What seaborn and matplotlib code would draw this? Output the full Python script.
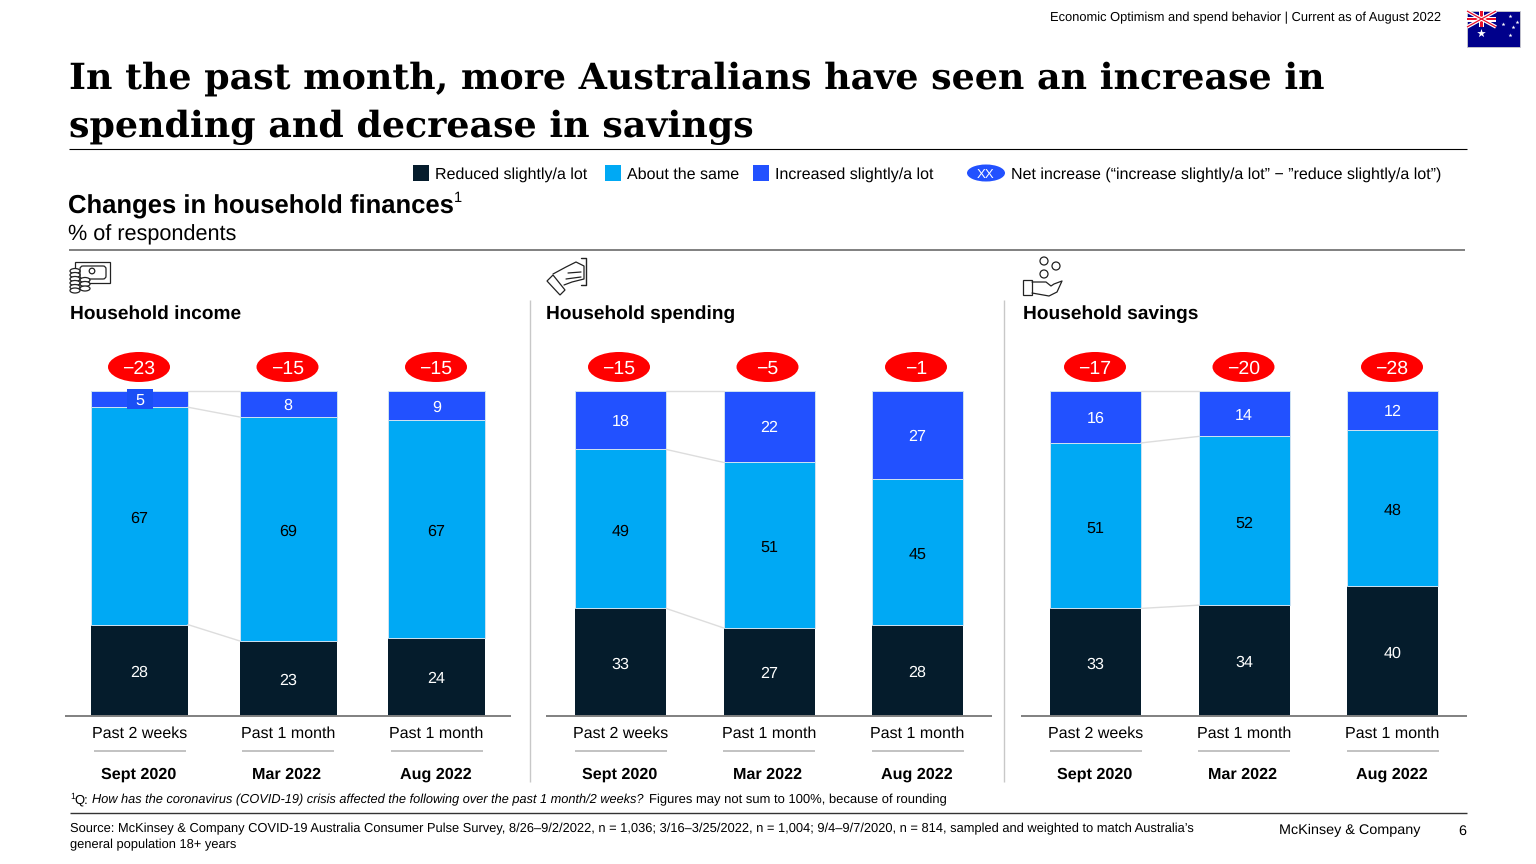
import matplotlib
matplotlib.use('Agg')
import matplotlib.pyplot as plt
from matplotlib.patches import Circle, Ellipse, Polygon, Rectangle, FancyBboxPatch
import pandas as pd
import seaborn as sns

W, H = 1536, 864

periods = ['Past 2 weeks', 'Past 1 month', 'Past 1 month']
dates = ['Sept 2020', 'Mar 2022', 'Aug 2022']
panel_names = ['Household income', 'Household spending', 'Household savings']

income_reduced = [28, 23, 24]
income_same = [67, 69, 67]
income_increased = [5, 8, 9]
income_net = ['−23', '−15', '−15']

spending_reduced = [33, 27, 28]
spending_same = [49, 51, 45]
spending_increased = [18, 22, 27]
spending_net = ['−15', '−5', '−1']

savings_reduced = [33, 34, 40]
savings_same = [51, 52, 48]
savings_increased = [16, 14, 12]
savings_net = ['−17', '−20', '−28']

DARK = '#051C2C'
CYAN = '#00A9F4'
BLUE = '#2251FF'
RED = '#FF0000'
EDGE = '#CFE3F2'

sns.set_theme(style='white')
plt.rcParams['font.family'] = ['Liberation Sans', 'DejaVu Sans']
plt.rcParams['text.hinting'] = 'none'

fig = plt.figure(figsize=(W / 100, H / 100), dpi=100, facecolor='white')


def add_px_axes(x0, x1, y_top, y_bottom):
    return fig.add_axes([x0 / W, 1 - y_bottom / H, (x1 - x0) / W, (y_bottom - y_top) / H])


# overlay in pixel coordinates for the slide furniture
bg = fig.add_axes([0, 0, 1, 1])
bg.set_xlim(0, W)
bg.set_ylim(H, 0)
bg.axis('off')


def txt(x, y, s, size, **kw):
    kw.setdefault('va', 'center_baseline')
    kw.setdefault('color', 'black')
    return bg.text(x, y, s, fontsize=size, **kw)


def rule(x0, x1, y0, y1=None, color='black', lw=1.0):
    bg.plot([x0, x1], [y0, y0 if y1 is None else y1], color=color, lw=lw, solid_capstyle='butt')


# header
txt(1441, 17, 'Economic Optimism and spend behavior | Current as of August 2022', 9.3, ha='right')
title_font = dict(family='DejaVu Serif', fontweight='bold', va='baseline')
txt(69, 89, 'In the past month, more Australians have seen an increase in', 26.2, **title_font)
txt(69, 137, 'spending and decrease in savings', 26.2, **title_font)
rule(69, 1467, 149, lw=0.8)

# flag
bg.add_patch(Rectangle((1467, 11), 53, 36, fc='#00008B', ec='#CCCCCC', lw=0.6))
bg.plot([1467, 1496], [11, 27], color='white', lw=2.6, solid_capstyle='butt')
bg.plot([1467, 1496], [27, 11], color='white', lw=2.6, solid_capstyle='butt')
bg.plot([1467, 1496], [11, 27], color='#E8112D', lw=0.9, solid_capstyle='butt')
bg.plot([1467, 1496], [27, 11], color='#E8112D', lw=0.9, solid_capstyle='butt')
bg.add_patch(Rectangle((1467, 16.5), 29, 5, fc='white', ec='none'))
bg.add_patch(Rectangle((1479, 11), 5, 16, fc='white', ec='none'))
bg.add_patch(Rectangle((1467, 17.7), 29, 2.6, fc='#E8112D', ec='none'))
bg.add_patch(Rectangle((1480.2, 11), 2.6, 16, fc='#E8112D', ec='none'))
bg.scatter([1481], [33], marker='*', s=42, color='white', lw=0)
bg.scatter([1510, 1503, 1517, 1510, 1513], [16, 24, 22, 35, 27], marker='*', s=9, color='white', lw=0)

# legend
legend_items = [(413, DARK, 'Reduced slightly/a lot'), (605, CYAN, 'About the same'),
                (753, BLUE, 'Increased slightly/a lot')]
for x, c, label in legend_items:
    bg.add_patch(Rectangle((x, 165), 16, 16, fc=c, ec='none'))
    txt(x + 22, 178.5, label, 11.5, va='baseline')
bg.add_patch(Ellipse((986, 173), 38, 17, fc=BLUE, ec='none'))
txt(986, 177.5, 'XX', 9.5, color='white', ha='center', va='baseline')
txt(1011, 178.5, 'Net increase (“increase slightly/a lot” − ”reduce slightly/a lot”)', 11.5, va='baseline')

# subtitle
txt(68, 204, 'Changes in household finances', 18.45, fontweight='bold')
txt(454, 197, '1', 10.5)
txt(68, 232, '% of respondents', 15.6)
rule(69, 1465, 250, color='#808080', lw=1.4)

# panel dividers
rule(530, 530, 300, 782, color='#C8C8C8', lw=1)
rule(1004, 1004, 300, 782, color='#C8C8C8', lw=1)

# icon: notes and coins
ic = dict(fill=False, ec='#222222', lw=0.9)
bg.add_patch(Rectangle((75, 262), 35, 21, **ic))
bg.add_patch(FancyBboxPatch((80, 266), 26, 13, boxstyle='round,pad=0,rounding_size=3', fc='white', ec='#222222', lw=0.9))
bg.add_patch(Circle((92, 271), 2.8, **ic))
for yy in [271, 275, 279, 283, 287, 290.5]:
    bg.add_patch(Ellipse((75, yy), 10, 5, fc='white', ec='#222222', lw=0.9, zorder=3))
for yy in [280, 284, 288.5]:
    bg.add_patch(Ellipse((85, yy), 10, 5, fc='white', ec='#222222', lw=0.9, zorder=3))

# icon: hand with card
bg.plot([581, 586, 586, 581], [258, 258, 285, 285], color='#222222', lw=1)
bg.add_patch(Polygon([(547, 281), (553, 275), (565, 290), (560, 295)], **ic))
bg.plot([553, 566, 576, 584, 584, 572, 564], [274, 267, 262, 266, 279, 282, 285], color='#222222', lw=0.9)
bg.plot([568, 581], [273, 272], color='#222222', lw=0.9)
bg.plot([566, 581], [279, 277], color='#222222', lw=0.9)

# icon: hand with coins
for xx, yy, r in [(1044, 261, 4), (1056, 266, 4), (1044, 274, 4)]:
    bg.add_patch(Circle((xx, yy), r, **ic))
bg.add_patch(Rectangle((1023, 280), 9, 15, **ic))
bg.plot([1032, 1046, 1051, 1054, 1062, 1057, 1049, 1032],
        [282, 282, 286, 284, 281, 292, 296, 293], color='#222222', lw=0.9)

# footnotes
rule(70, 1467, 813, color='#333333', lw=1)
txt(70, 796, '1', 6.4)
txt(74.5, 803.5, 'Q:', 9.35, va='baseline')
txt(92.5, 803.5, 'How has the coronavirus (COVID-19) crisis affected the following over the past 1 month/2 weeks?', 9.2,
    style='italic', va='baseline')
txt(947, 803.5, 'Figures may not sum to 100%, because of rounding', 9.35, ha='right', va='baseline')
txt(70, 828, 'Source: McKinsey & Company COVID-19 Australia Consumer Pulse Survey, 8/26–9/2/2022, n = 1,036; '
    '3/16–3/25/2022, n = 1,004; 9/4–9/7/2020, n = 814, sampled and weighted to match Australia’s', 9.27)
txt(70, 844, 'general population 18+ years', 9.27)
txt(1420, 829.5, 'McKinsey & Company', 10.4, ha='right')
txt(1466, 829.5, '6', 10.4, ha='right')

panels = [
    (panel_names[0], income_reduced, income_same, income_increased, income_net, 65.25, 97 / 148.5, 70, -0.5),
    (panel_names[1], spending_reduced, spending_same, spending_increased, spending_net, 546.25, 91 / 148.5, 546, -1.5),
    (panel_names[2], savings_reduced, savings_same, savings_increased, savings_net, 1021.25, 91 / 148.5, 1023, -0.5),
]

for name, reduced, same, increased, net, x0, bar_w, name_x, pill_dx in panels:
    ax = add_px_axes(x0, x0 + 445.5, 391, 715.5)
    ax.patch.set_alpha(0)
    df = pd.DataFrame({'date': dates, 'reduced': reduced, 'same': same, 'increased': increased})
    df['low'] = df['reduced'] + df['same']

    sns.barplot(data=df, x='date', y='reduced', color=DARK, width=bar_w, saturation=1, linewidth=0, ax=ax)
    sns.barplot(data=df, x='date', y='same', bottom=df['reduced'], color=CYAN, width=bar_w, saturation=1,
                edgecolor=EDGE, linewidth=0.7, ax=ax)
    sns.barplot(data=df, x='date', y='increased', bottom=df['low'], color=BLUE, width=bar_w, saturation=1,
                edgecolor=EDGE, linewidth=0.7, ax=ax)

    ax.set_xlim(-0.5, 2.5)
    ax.set_ylim(0, 100)
    ax.set_xlabel('')
    ax.set_ylabel('')
    ax.set_yticks([])
    ax.set_xticks(range(3))
    ax.set_xticklabels(periods, fontsize=11.5, color='black')
    ax.tick_params(axis='x', length=0, pad=8)
    for s in ['top', 'left', 'right']:
        ax.spines[s].set_visible(False)
    ax.spines['bottom'].set_color('#808080')
    ax.spines['bottom'].set_linewidth(1.4)
    ax.spines['bottom'].set_capstyle('butt')

    # thin connectors, only between the first two bars
    gap0, gap1 = bar_w / 2, 1 - bar_w / 2
    for a, b in zip([reduced[0], reduced[0] + same[0], 100], [reduced[1], reduced[1] + same[1], 100]):
        ax.plot([gap0, gap1], [a, b], color='#DDDDDD', lw=1, clip_on=False, zorder=1)

    for i in range(3):
        ax.text(i, reduced[i] / 2 - 0.3, str(reduced[i]), color='white', ha='center', va='center_baseline', fontsize=11.6)
        ax.text(i, reduced[i] + same[i] / 2 - 0.3, str(same[i]), color='black', ha='center', va='center_baseline', fontsize=11.6)
        if increased[i] < 6:
            # small segment gets its own tag so the label fits
            ax.add_patch(Rectangle((i - 13 / 148.5, 100 - increased[i] / 2 - 3.1), 26 / 148.5, 6.2,
                                   fc='#1A4FF5', ec='none', clip_on=False, zorder=4))
        ax.text(i, 100 - increased[i] / 2, str(increased[i]), color='white', ha='center', va='center_baseline',
                fontsize=11.6, zorder=5)
        # net pill and the labels under the axis
        px = i + pill_dx / 148.5
        ax.add_patch(Ellipse((px, 107.4), 62 / 148.5, 30 / 3.245, fc=RED, ec='none', clip_on=False))
        ax.text(px, 107.3, net[i], color='white', ha='center', va='center_baseline', fontsize=14, clip_on=False)
        cx = x0 + 74.25 + 148.5 * i
        rule(cx - 46, cx + 46, 751, color='#BDBDBD', lw=1.3)
        txt(cx - 1, 773, dates[i], 11.6, ha='center', fontweight='bold')

    txt(name_x, 312, name, 13.75, fontweight='bold')

fig.savefig('out.png', dpi=100)
